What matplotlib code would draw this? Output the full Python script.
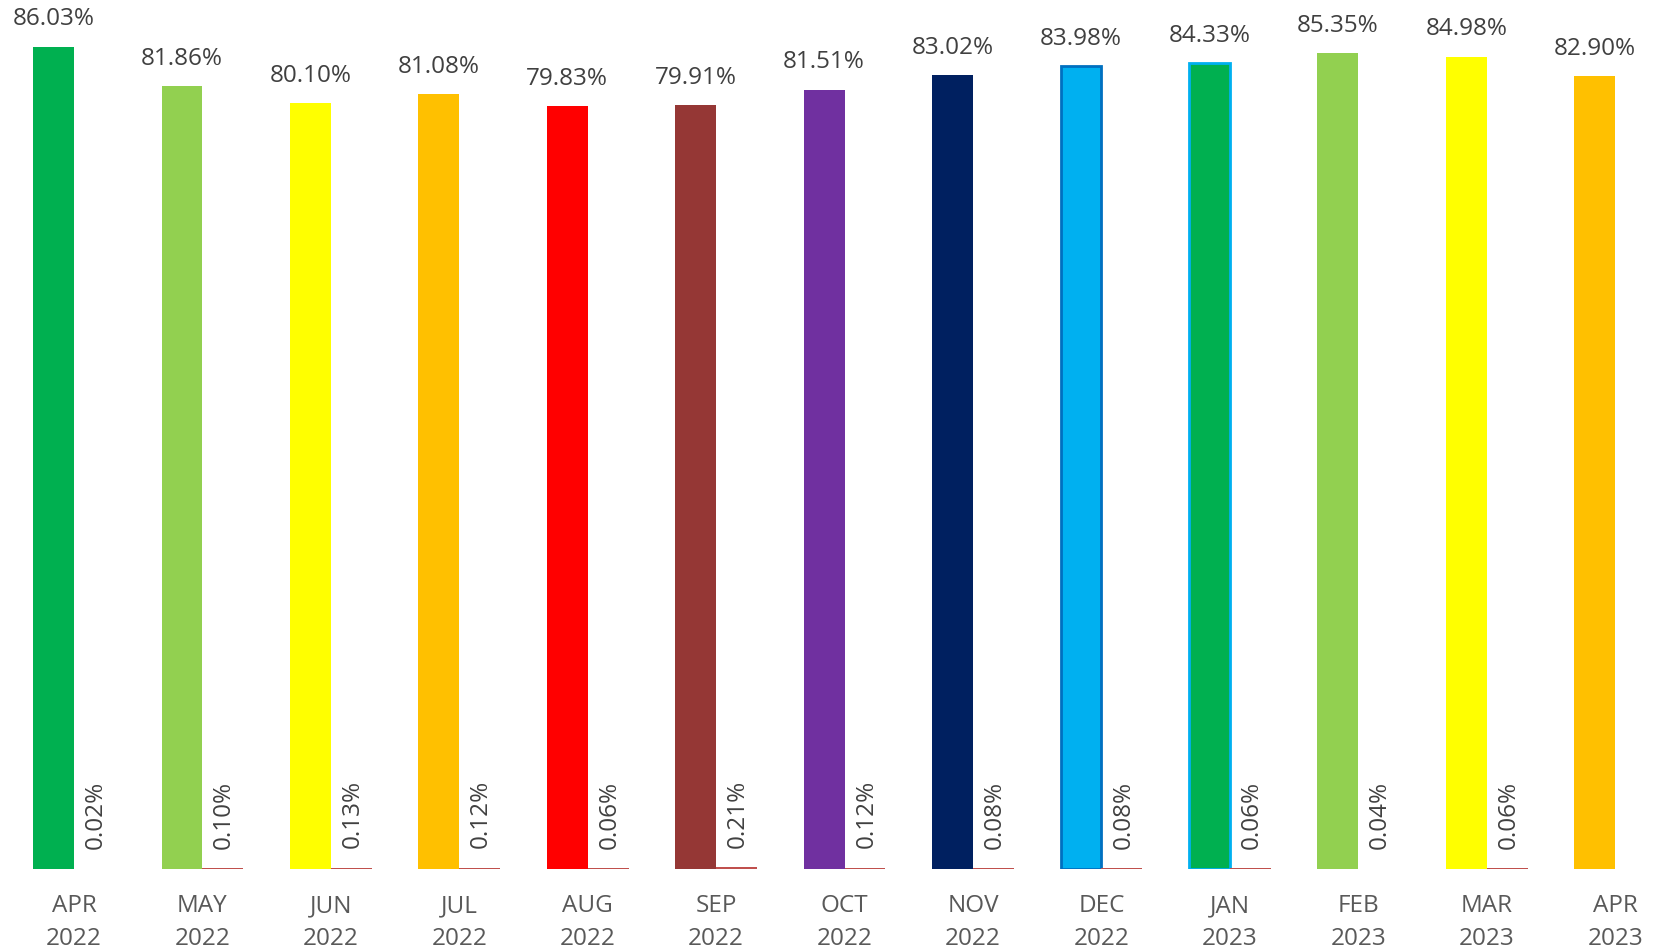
import matplotlib.pyplot as plt
import numpy as np

months = ['APR\n2022', 'MAY\n2022', 'JUN\n2022', 'JUL\n2022', 'AUG\n2022', 'SEP\n2022',
          'OCT\n2022', 'NOV\n2022', 'DEC\n2022', 'JAN\n2023', 'FEB\n2023', 'MAR\n2023', 'APR\n2023']
main_vals = [86.03, 81.86, 80.10, 81.08, 79.83, 79.91, 81.51, 83.02, 83.98, 84.33, 85.35, 84.98, 82.90]
small_vals = [0.02, 0.10, 0.13, 0.12, 0.06, 0.21, 0.12, 0.08, 0.08, 0.06, 0.04, 0.06, None]
bar_colors = ['#00B050', '#92D050', '#FFFF00', '#FFC000', '#FF0000', '#953735', '#7030A0',
              '#002060', '#00B0F0', '#00B050', '#92D050', '#FFFF00', '#FFC000']
edge_colors = [None] * 8 + ['#0070C0', '#00B0F0', None, None, None]

plt.rcParams['font.family'] = ['Open Sans', 'DejaVu Sans']

fig = plt.figure(figsize=(16.55, 9.51), dpi=100)
ax = fig.add_axes([0, 0.0862, 1, 0.9138])

x = np.arange(len(months))
w = 0.318

for i in range(len(months)):
    ec = edge_colors[i]
    ax.bar(x[i] - w / 2, main_vals[i], width=w, color=bar_colors[i],
           edgecolor=ec if ec else bar_colors[i], linewidth=2 if ec else 0)
    ax.annotate(f'{main_vals[i]:.2f}%', (x[i] - w / 2, main_vals[i]), xytext=(0, 11),
                textcoords='offset points', ha='center', va='bottom',
                fontsize=17.5, color='#404040')
    if small_vals[i] is not None:
        ax.bar(x[i] + w / 2, small_vals[i], width=w, color='#C0504D', linewidth=0)
        ax.annotate(f'{small_vals[i]:.2f}%', (x[i] + w / 2, small_vals[i]), xytext=(1, 14),
                    textcoords='offset points', ha='center', va='bottom', rotation=90,
                    fontsize=17.5, color='#404040')

ax.set_xlim(-0.576, 12.31)
ax.set_ylim(0, 90.9)
ax.set_xticks(x)
ax.set_xticklabels(months, fontsize=17.5, color='#595959', linespacing=1.5)
ax.tick_params(axis='x', length=0, pad=18)
ax.set_yticks([])
for s in ax.spines.values():
    s.set_visible(False)

plt.savefig('out.png', dpi=100)
